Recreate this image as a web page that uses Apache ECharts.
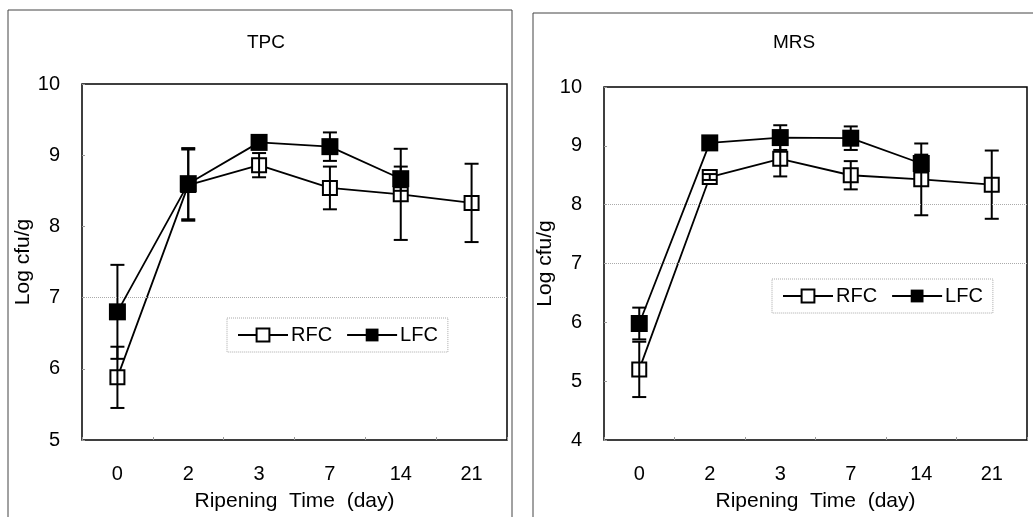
<!DOCTYPE html>
<html>
<head>
<meta charset="utf-8">
<script src="https://cdn.jsdelivr.net/npm/echarts@6/dist/echarts.min.js"></script>
<style>
  html, body { margin: 0; padding: 0; background: #fff; }
  #chart { width: 1033px; height: 517px; }
</style>
</head>
<body>
<div id="chart"></div>
<script>
const days = ["0", "2", "3", "7", "14", "21"];

// TPC panel
const tpcRfc = [5.88, 8.58, 8.86, 8.54, 8.45, 8.33];
const tpcRfcErr = [0.43, 0.5, 0.17, 0.3, 0.64, 0.55];
const tpcLfc = [6.8, 8.6, 9.18, 9.12, 8.67, null];
const tpcLfcErr = [0.66, 0.5, 0.08, 0.2, 0.17, null];
const tpcGuides = [7];

// MRS panel
const mrsRfc = [5.2, 8.47, 8.78, 8.5, 8.43, 8.34];
const mrsRfcErr = [0.47, 0.05, 0.3, 0.24, 0.61, 0.58];
const mrsLfc = [5.98, 9.05, 9.14, 9.13, 8.7, null];
const mrsLfcErr = [0.27, 0.05, 0.21, 0.2, 0.15, null];
const mrsGuides = [7, 8];

const font = "Liberation Sans";

function errData(mean, err) {
	return mean
		.map((m, i) => (m == null ? null : [i, m - err[i], m + err[i]]))
		.filter((d) => d);
}

function errRender(params, api) {
	const x = api.value(0);
	const lo = api.coord([x, api.value(1)]);
	const hi = api.coord([x, api.value(2)]);
	const w = 7;
	const style = { stroke: "#000", lineWidth: 2 };
	return {
		type: "group",
		children: [
			{ type: "line", shape: { x1: lo[0], y1: lo[1], x2: hi[0], y2: hi[1] }, style },
			{ type: "line", shape: { x1: lo[0] - w, y1: lo[1], x2: lo[0] + w, y2: lo[1] }, style },
			{ type: "line", shape: { x1: hi[0] - w, y1: hi[1], x2: hi[0] + w, y2: hi[1] }, style },
		],
	};
}

function errSeries(name, idx, mean, err) {
	return {
		name: name,
		type: "custom",
		xAxisIndex: idx,
		yAxisIndex: idx,
		renderItem: errRender,
		encode: { x: 0, y: [1, 2] },
		data: errData(mean, err),
		z: 4,
		silent: true,
	};
}

function rfcSeries(idx, values, guides) {
	return {
		name: "RFC",
		type: "line",
		xAxisIndex: idx,
		yAxisIndex: idx,
		data: values,
		symbol: "rect",
		symbolSize: 14,
		lineStyle: { color: "#000", width: 1.8 },
		itemStyle: { color: "#fff", borderColor: "#000", borderWidth: 2 },
		z: 3,
		markLine: {
			silent: true,
			symbol: "none",
			label: { show: false },
			lineStyle: { color: "#aaa", type: "dotted", width: 1 },
			data: guides.map((v) => ({ yAxis: v })),
		},
	};
}

function lfcSeries(idx, values) {
	return {
		name: "LFC",
		type: "line",
		xAxisIndex: idx,
		yAxisIndex: idx,
		data: values,
		symbol: "rect",
		symbolSize: 17,
		lineStyle: { color: "#000", width: 1.8 },
		itemStyle: { color: "#000", borderColor: "#000", borderWidth: 0 },
		z: 5,
	};
}

function xAxis(idx) {
	return {
		type: "category",
		gridIndex: idx,
		data: days,
		name: "Ripening  Time  (day)",
		nameLocation: "middle",
		nameGap: 51,
		nameTextStyle: { fontFamily: font, fontSize: 21, color: "#000" },
		axisLine: { show: false },
		axisTick: { show: true, inside: true, length: 3, lineStyle: { color: "#999" } },
		axisLabel: { fontFamily: font, fontSize: 20, color: "#000", margin: 24 },
		splitLine: { show: false },
	};
}

function yAxis(idx, min, gap) {
	return {
		type: "value",
		gridIndex: idx,
		min: min,
		max: 10,
		interval: 1,
		name: "Log cfu/g",
		nameLocation: "middle",
		nameGap: gap,
		nameTextStyle: { fontFamily: font, fontSize: 21, color: "#000" },
		axisLine: { show: false },
		axisTick: { show: true, inside: true, length: 3, lineStyle: { color: "#999" } },
		axisLabel: { fontFamily: font, fontSize: 20, color: "#000", margin: 22 },
		splitLine: { show: false },
	};
}

function legend(left, top) {
	return {
		data: ["RFC", "LFC"],
		left: left,
		top: top,
		orient: "horizontal",
		itemWidth: 50,
		itemHeight: 16,
		itemGap: 14,
		padding: [7, 10],
		selectedMode: false,
		borderColor: "#aaa",
		borderWidth: 1,
		borderType: "dotted",
		textStyle: { fontFamily: font, fontSize: 20, color: "#000", padding: [0, 0, 0, -2] },
	};
}

const option = {
	animation: false,
	backgroundColor: "#fff",
	title: [
		{ text: "TPC", left: 261, top: 28, textAlign: "center", textStyle: { fontFamily: font, fontSize: 19, fontWeight: "normal", color: "#000" } },
		{ text: "MRS", left: 789, top: 28, textAlign: "center", textStyle: { fontFamily: font, fontSize: 19, fontWeight: "normal", color: "#000" } },
	],
	legend: [legend(227, 318), legend(772, 279)],
	grid: [
		{ left: 82, top: 84, width: 425, height: 359, show: true, borderColor: "#000", borderWidth: 1.5, backgroundColor: "transparent" },
		{ left: 604, top: 87, width: 423, height: 359, show: true, borderColor: "#000", borderWidth: 1.5, backgroundColor: "transparent" },
	],
	xAxis: [xAxis(0), xAxis(1)],
	yAxis: [yAxis(0, 5, 45), yAxis(1, 4, 41)],
	graphic: [
		{ type: "rect", shape: { x: 8, y: 10, width: 504, height: 520 }, style: { fill: "none", stroke: "#444", lineWidth: 1 }, silent: true, z: 0 },
		{ type: "rect", shape: { x: 533, y: 13, width: 520, height: 520 }, style: { fill: "none", stroke: "#444", lineWidth: 1 }, silent: true, z: 0 },
	],
	series: [
		rfcSeries(0, tpcRfc, tpcGuides),
		lfcSeries(0, tpcLfc),
		errSeries("RFC err", 0, tpcRfc, tpcRfcErr),
		errSeries("LFC err", 0, tpcLfc, tpcLfcErr),
		rfcSeries(1, mrsRfc, mrsGuides),
		lfcSeries(1, mrsLfc),
		errSeries("RFC err", 1, mrsRfc, mrsRfcErr),
		errSeries("LFC err", 1, mrsLfc, mrsLfcErr),
	],
};

const chart = echarts.init(document.getElementById("chart"));
chart.setOption(option);
</script>
</body>
</html>
